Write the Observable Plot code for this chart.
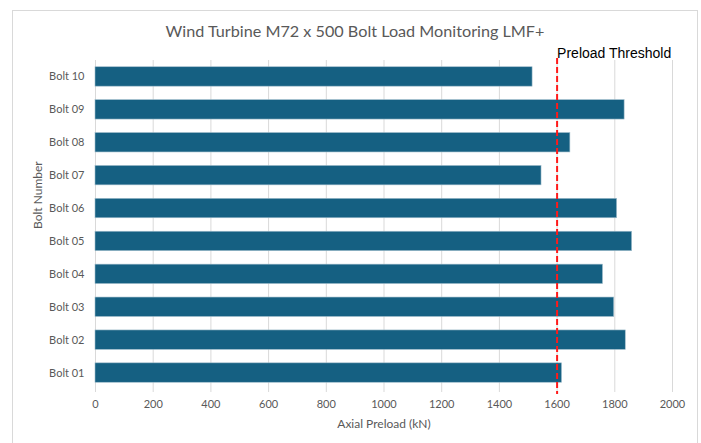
<!DOCTYPE html>
<html>
<head>
<meta charset="utf-8">
<script src="https://cdn.jsdelivr.net/npm/d3@7"></script>
<script src="https://cdn.jsdelivr.net/npm/@observablehq/plot@0.6"></script>
<style>
  html, body { margin: 0; padding: 0; background: #fff; overflow: hidden; }
  #wrap { position: relative; width: 701px; height: 443px; overflow: hidden; }
  #frame { position: absolute; left: 12px; top: 10px; width: 686px; height: 450px; border: 1px solid #d9d9d9; box-sizing: border-box; }
  #title { position: absolute; left: 0px; width: 710px; top: 20px; text-align: center;
           font-family: Lato, "Open Sans", sans-serif; font-size: 16.2px; color: #595959; line-height: 22px; }
  #chart { position: absolute; left: 0; top: 45px; }
</style>
</head>
<body>
<div id="wrap">
  <div id="frame"></div>
  <div id="title">Wind Turbine M72 x 500 Bolt Load Monitoring LMF+</div>
  <div id="chart"></div>
</div>
<script>
const bolts = ["Bolt 01","Bolt 02","Bolt 03","Bolt 04","Bolt 05","Bolt 06","Bolt 07","Bolt 08","Bolt 09","Bolt 10"];
const preload = [1617, 1838, 1798, 1759, 1860, 1808, 1546, 1646, 1834, 1515];
const threshold = 1600;
const thresholdLabel = "Preload Threshold";
const xTicks = [0, 200, 400, 600, 800, 1000, 1200, 1400, 1600, 1800, 2000];
const xTitle = "Axial Preload (kN)";
const yTitle = "Bolt Number";

const data = bolts.map((b, i) => ({bolt: b, value: preload[i]}));

const plot = Plot.plot({
  width: 701,
  height: 398,
  marginTop: 15,
  marginBottom: 54,
  marginLeft: 95,
  marginRight: 29,
  style: {fontFamily: "Lato, 'Open Sans', sans-serif", fontSize: "11px", color: "#595959", background: "transparent"},
  x: {domain: [0, 2000]},
  y: {domain: bolts.slice().reverse(), paddingInner: 0.41, paddingOuter: 0.205, round: false},
  marks: [
    Plot.gridX(xTicks, {stroke: "#d9d9d9", strokeOpacity: 1, strokeWidth: 1, insetBottom: -3}),
    Plot.barX(data, {x: "value", y: "bolt", fill: "#156082", stroke: "#9fbccb", strokeWidth: 0.6}),
    Plot.ruleX([threshold], {stroke: "#ff1a1a", strokeWidth: 2, strokeDasharray: "6,3", insetTop: -2, insetBottom: -5}),
    Plot.text([thresholdLabel], {x: threshold, frameAnchor: "top", lineAnchor: "middle", dy: -7, textAnchor: "start", dx: 0,
      fill: "#000", fontSize: 14, fontFamily: "'Liberation Sans', Arial, sans-serif"}),
    Plot.axisX(xTicks, {tickSize: 0, tickPadding: 11, tickFormat: d => String(d), label: null, fill: "#595959", fontSize: 11}),
    Plot.axisY({tickSize: 0, tickPadding: 11, label: null, fill: "#595959", fontSize: 11}),
    Plot.text([xTitle], {frameAnchor: "bottom", lineAnchor: "middle", dy: 35, fill: "#595959", fontSize: 12}),
    Plot.text([yTitle], {frameAnchor: "left", rotate: -90, dx: -57, dy: 4, fill: "#595959", fontSize: 12})
  ]
});
document.getElementById("chart").appendChild(plot);
</script>
</body>
</html>
